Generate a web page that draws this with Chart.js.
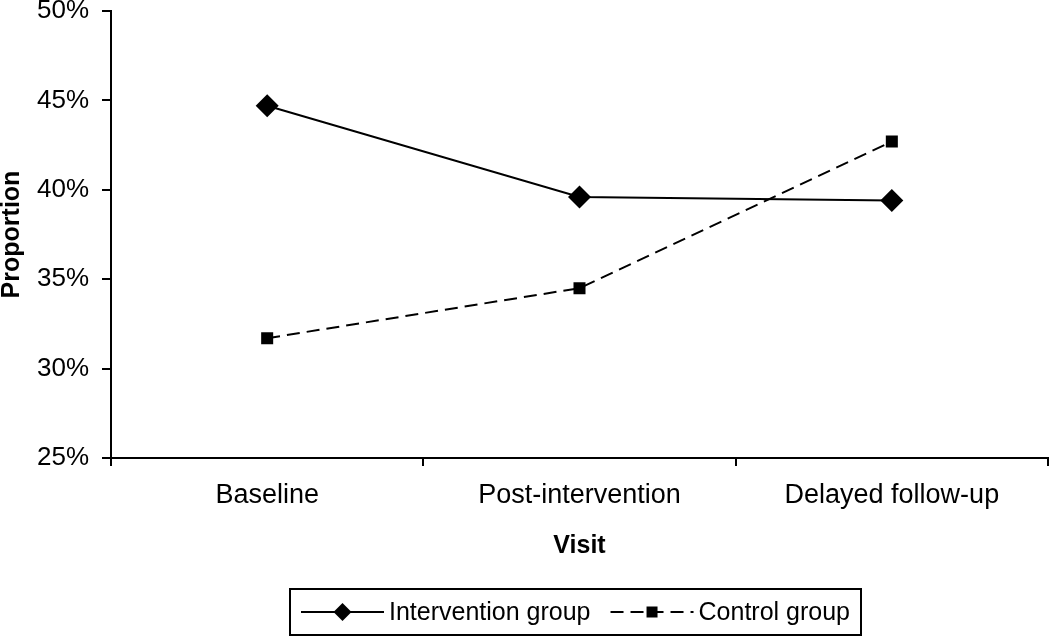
<!DOCTYPE html>
<html>
<head>
<meta charset="utf-8">
<script src="https://cdn.jsdelivr.net/npm/chart.js@4"></script>
<style>
  html, body { margin: 0; padding: 0; background: #fff; overflow: hidden; }
  #wrap { width: 1050px; height: 637px; position: relative; }
  canvas { display: block; }
</style>
</head>
<body>
<div id="wrap"><canvas id="chart"></canvas></div>
<script>
const visits = ["Baseline", "Post-intervention", "Delayed follow-up"];
const interventionGroup = [44.7, 39.6, 39.4];
const controlGroup = [31.7, 34.5, 42.7];
const seriesNames = ["Intervention group", "Control group"];

const FONT = "'Liberation Sans', Arial, sans-serif";

// legend drawn in a box under the x axis, line + marker + line like the original
const boxLegend = {
  id: "boxLegend",
  afterDraw(chart) {
    const ctx = chart.ctx;
    const items = chart.data.datasets;
    const lineLen = 83, textGap = 5, itemGap = 20, padX = 11;
    ctx.save();
    ctx.font = "25px " + FONT;
    const widths = items.map((d) => ctx.measureText(d.label).width);
    let total = 0;
    widths.forEach((w, i) => { total += lineLen + textGap + w + (i ? itemGap : 0); });
    const cx = 576, cy = 612;
    const boxLeft = Math.round(cx - total / 2 - padX);
    const boxW = Math.round(total + padX * 2);
    ctx.strokeStyle = "#000";
    ctx.lineWidth = 2;
    ctx.strokeRect(boxLeft, 589, boxW, 46);

    let x = boxLeft + padX;
    items.forEach((d, i) => {
      if (i) x += itemGap;
      ctx.strokeStyle = "#000";
      ctx.fillStyle = "#000";
      ctx.lineWidth = 2;
      ctx.setLineDash(d.borderDash || []);
      ctx.beginPath();
      ctx.moveTo(x, cy);
      ctx.lineTo(x + lineLen, cy);
      ctx.stroke();
      ctx.setLineDash([]);
      const mx = x + lineLen / 2;
      ctx.beginPath();
      if (d.pointStyle === "rectRot") {
        const r = 9;
        ctx.moveTo(mx, cy - r);
        ctx.lineTo(mx + r, cy);
        ctx.lineTo(mx, cy + r);
        ctx.lineTo(mx - r, cy);
        ctx.closePath();
      } else {
        ctx.rect(mx - 5.5, cy - 5.5, 11, 11);
      }
      ctx.fill();
      x += lineLen + textGap;
      ctx.textAlign = "left";
      ctx.textBaseline = "middle";
      ctx.fillText(d.label, x, cy + 1);
      x += widths[i];
    });
    ctx.restore();
  },
};

new Chart(document.getElementById("chart"), {
  type: "line",
  data: {
    labels: visits,
    datasets: [
      {
        label: seriesNames[0],
        data: interventionGroup,
        borderColor: "#000",
        backgroundColor: "#000",
        borderWidth: 2,
        pointStyle: "rectRot",
        pointRadius: 11.5,
        pointHoverRadius: 11.5,
        pointBorderWidth: 0,
        tension: 0,
      },
      {
        label: seriesNames[1],
        data: controlGroup,
        borderColor: "#000",
        backgroundColor: "#000",
        borderWidth: 2,
        borderDash: [13, 7],
        pointStyle: "rect",
        pointRadius: 8.5,
        pointHoverRadius: 8.5,
        pointBorderWidth: 0,
        tension: 0,
      },
    ],
  },
  options: {
    responsive: true,
    maintainAspectRatio: false,
    animation: false,
    layout: {
      autoPadding: false,
      padding: { top: 11, right: 2, left: 0, bottom: 69 },
    },
    plugins: {
      legend: { display: false },
      tooltip: { enabled: false },
    },
    scales: {
      x: {
        offset: true,
        grid: {
          offset: true,
          drawOnChartArea: false,
          drawTicks: true,
          tickLength: 8,
          color: "#000",
          lineWidth: 2,
        },
        border: { display: true, color: "#000", width: 2 },
        ticks: {
          color: "#000",
          padding: 13,
          maxRotation: 0,
          font: { family: FONT, size: 27 },
        },
        title: {
          display: true,
          text: "Visit",
          color: "#000",
          padding: { top: 0, bottom: 9 },
          font: { family: FONT, size: 25, weight: "bold", lineHeight: 1 },
        },
        afterFit(scale) {
          scale.height = 110;
          scale.paddingLeft = 0;
          scale.paddingRight = 0;
        },
      },
      y: {
        min: 25,
        max: 50,
        ticks: {
          stepSize: 5,
          color: "#000",
          padding: 13,
          font: { family: FONT, size: 26 },
          callback: (v) => v + "%",
        },
        grid: {
          drawOnChartArea: false,
          drawTicks: true,
          tickLength: 9,
          color: "#000",
          lineWidth: 2,
        },
        border: { display: true, color: "#000", width: 2 },
        title: {
          display: true,
          text: "Proportion",
          color: "#000",
          padding: { top: 0, bottom: 0 },
          font: { family: FONT, size: 25, weight: "bold", lineHeight: 1 },
        },
        afterFit(scale) {
          scale.width = 111;
          scale.paddingTop = 0;
          scale.paddingBottom = 0;
        },
      },
    },
  },
  plugins: [boxLegend],
});
</script>
</body>
</html>
